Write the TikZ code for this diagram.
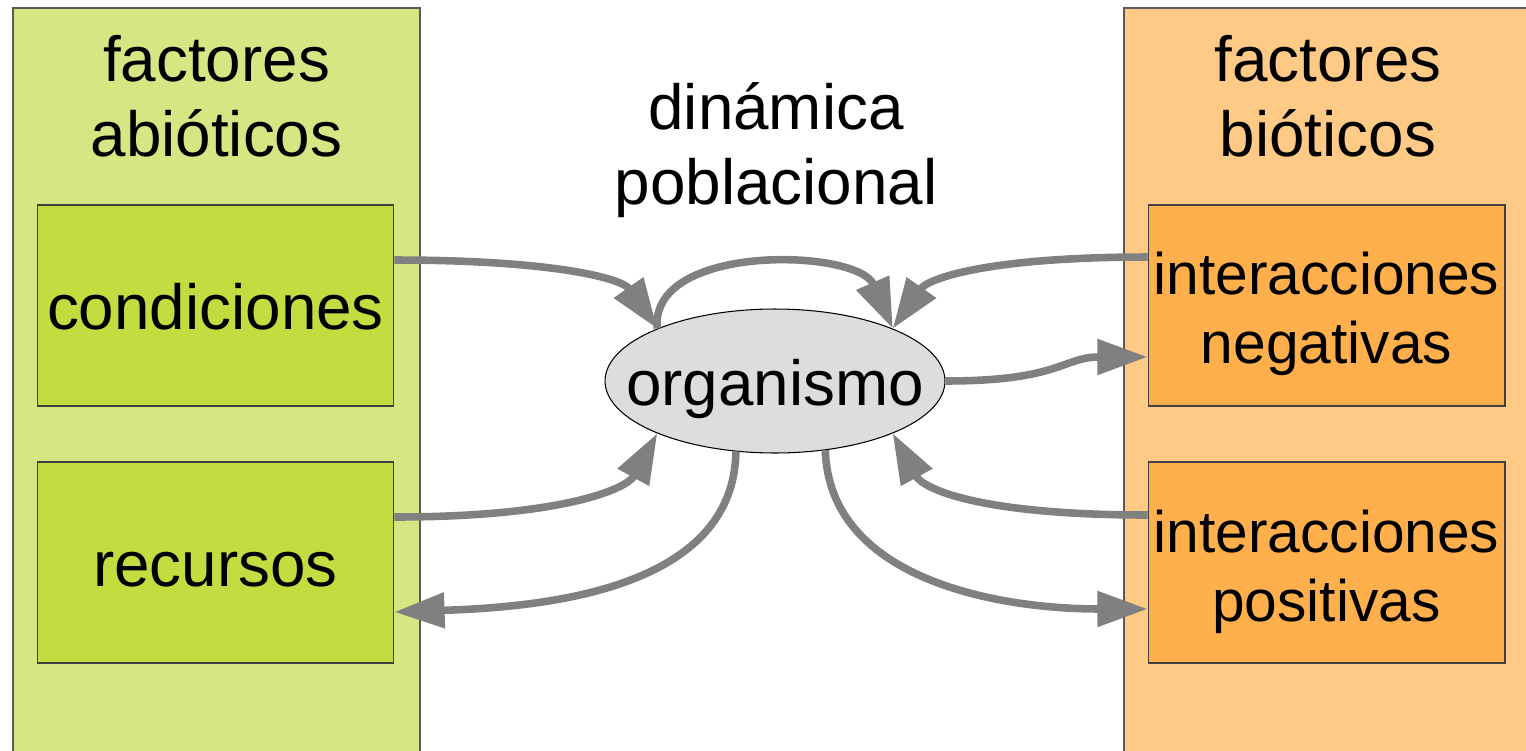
\documentclass[tikz,border=0pt]{standalone}
\usepackage{fontspec}
\setmainfont{Liberation Sans}
\usetikzlibrary{arrows.meta,shapes.geometric}
\definecolor{panelL}{HTML}{D7E683}
\definecolor{boxL}{HTML}{C5DC41}
\definecolor{panelR}{HTML}{FFCA86}
\definecolor{boxR}{HTML}{FFAF4C}
\definecolor{orgfill}{HTML}{DDDDDD}
\definecolor{arrowgray}{HTML}{808080}
\begin{document}
\begin{tikzpicture}[x=0.02cm,y=-0.02cm,
  bigfont/.style={font=\fontsize{36.3}{42.5}\selectfont},
  smallfont/.style={font=\fontsize{33.4}{39.1}\selectfont},
  panel/.style={draw=black!65, line width=0.6pt},
  itembox/.style={draw=black!75, line width=0.6pt, minimum width=7.14cm, minimum height=4.02cm, inner sep=0pt, bigfont, text height=31.2pt, text depth=3.4pt},
  twoline/.style={align=center},
  orgnode/.style={ellipse, draw=black, line width=0.6pt, fill=orgfill, minimum width=6.8cm, minimum height=2.88cm, inner sep=0pt, bigfont, text height=31.2pt, text depth=3.4pt},
  conn/.style={draw=arrowgray, line width=4.3pt, -{Triangle[length=28.5pt,width=19.5pt]}}
]
\useasboundingbox (0,0) rectangle (1526,751);
\fill[white] (0,0) rectangle (1526,751);
\draw[panel, fill=panelL] (13,8) rectangle (420,780);
\draw[panel, fill=panelR] (1124,8) rectangle (1545,780);

\node[bigfont, twoline] (abio) at (216.5,96) {factores\\abióticos};
\node[bigfont, twoline] (bio) at (1328,96) {factores\\bióticos};
\node[bigfont, twoline] (din) at (776,150) {dinámica\\poblacional};

\node[itembox, fill=boxL] (cond) at (215.5,305.5) {condiciones};
\node[itembox, fill=boxL] (rec) at (215.5,562.5) {recursos};
\node[itembox, fill=boxR] (ineg) at (1326.5,305.5) {};
\node[itembox, fill=boxR] (ipos) at (1326.5,562.5) {};
\node[smallfont, twoline] (inegt) at (1326.5,314) {interacciones\\negativas};
\node[smallfont, twoline] (ipost) at (1326.5,572) {interacciones\\positivas};

\node[orgnode] (org) at (775,381) {\makebox[0pt]{organismo}};

\draw[conn] ([yshift=0.91cm]cond.east) .. controls +(160,0) and +(-35,-50) .. (org.156);
\draw[conn] (org.156) .. controls +(-8,-86) and +(-35,-80) .. (org.24);
\draw[conn] ([yshift=0.97cm]ineg.west) .. controls +(-160,0) and +(35,-50) .. (org.24);
\draw[conn] (org.east) .. controls +(115,0) and +(-85,0) .. ([yshift=-1.03cm]ineg.west);
\draw[conn] ([yshift=0.91cm]rec.east) .. controls +(170,0) and +(-30,55) .. (org.204);
\draw[conn] (org.241.8) .. controls +(-2,138) and +(150,-5) .. ([yshift=-0.99cm]rec.east);
\draw[conn] ([yshift=0.95cm]ipos.west) .. controls +(-170,0) and +(30,55) .. (org.336);
\draw[conn] (org.306.7) .. controls +(4,130) and +(-148,0) .. ([yshift=-0.93cm]ipos.west);
\end{tikzpicture}
\end{document}
